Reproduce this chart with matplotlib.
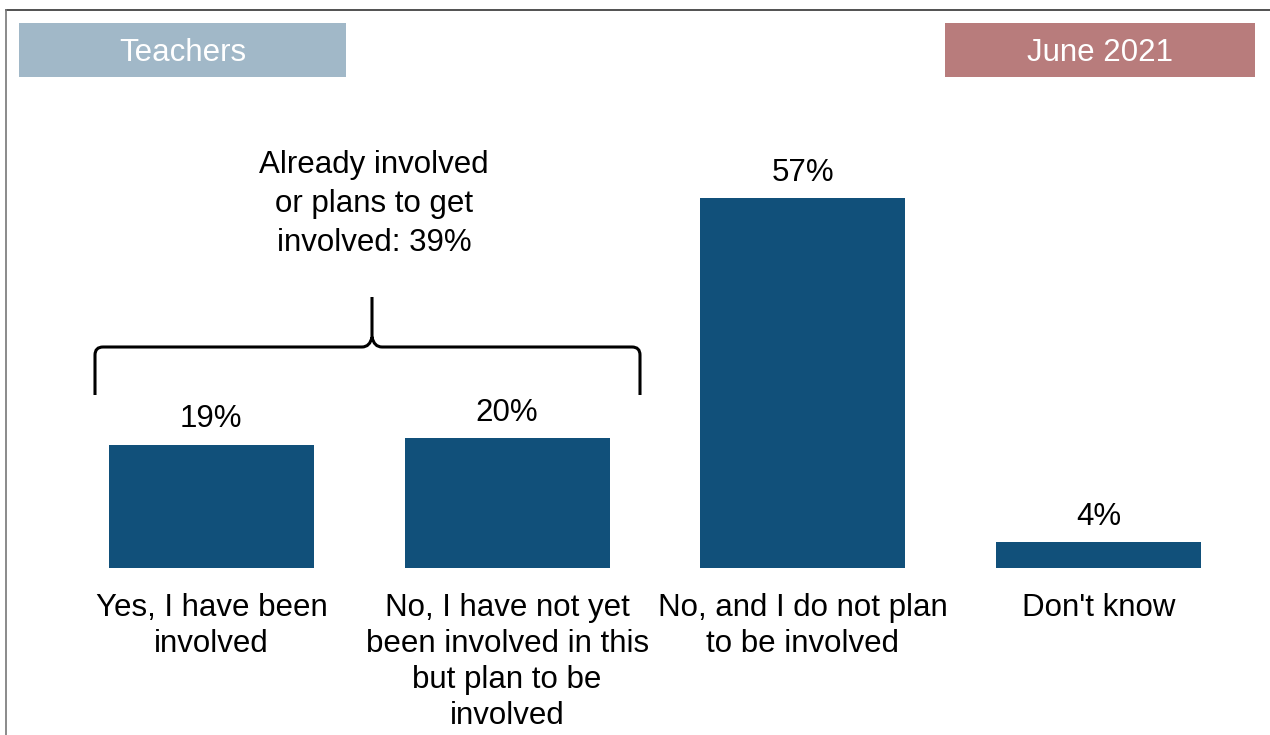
import matplotlib.pyplot as plt
from matplotlib.patches import Rectangle
from matplotlib.path import Path
from matplotlib.patches import PathPatch
from matplotlib.lines import Line2D

plt.rcParams['font.family'] = ['Liberation Sans', 'DejaVu Sans']

# ======================
# data
# ======================
categories = [
    "Yes, I have been\ninvolved",
    "No, I have not yet\nbeen involved in this\nbut plan to be\ninvolved",
    "No, and I do not plan\nto be involved",
    "Don't know",
]
values = [19, 20, 57, 4]
group_label = "Already involved\nor plans to get\ninvolved: 39%"
left_tag = "Teachers"
right_tag = "June 2021"

BAR_COLOR = "#11507A"
FS = 22.5
W, H = 1270, 735

fig = plt.figure(figsize=(W / 100, H / 100), dpi=100)

# axes placed in pixel terms: x from 63.5 to 1246.5, baseline at y=568
ax = fig.add_axes([63.5 / W, (H - 568) / H, 1183 / W, 468 / H])
x = list(range(len(values)))
ax.bar(x, values, width=205 / 296, color=BAR_COLOR)
ax.set_xlim(-0.5, len(values) - 0.5)
ax.set_ylim(0, 468 / 6.49)
ax.axis("off")

for xi, v in zip(x, values):
    ax.annotate(f"{v}%", (xi, v), xytext=(0, 18.3), textcoords="offset points",
                ha="center", va="center", fontsize=FS)

for xi, lab in zip(x, categories):
    ax.annotate(lab, (xi, 0), xytext=(0, -18), textcoords="offset points",
                ha="center", va="top", fontsize=FS, linespacing=1.26)

# ======================
# curly bracket over first two bars (figure pixels, y from top)
# ======================
def px(xp, yp):
    return (xp / W, 1 - yp / H)

xl, xr, xm = 95, 640, 372
y_end, y_bar, y_tip = 395, 347, 297
r = 8
verts = [
    px(xl, y_end), px(xl, y_bar + r), px(xl, y_bar), px(xl + r, y_bar),
    px(xm - 10, y_bar), px(xm - 2, y_bar), px(xm, y_bar - 10), px(xm, y_tip),
    px(xm, y_bar - 10), px(xm + 2, y_bar), px(xm + 10, y_bar),
    px(xr - r, y_bar), px(xr, y_bar), px(xr, y_bar + r), px(xr, y_end),
]
codes = [Path.MOVETO, Path.LINETO, Path.CURVE3, Path.CURVE3,
         Path.LINETO, Path.CURVE3, Path.CURVE3, Path.LINETO,
         Path.MOVETO, Path.CURVE3, Path.CURVE3,
         Path.LINETO, Path.CURVE3, Path.CURVE3, Path.LINETO]
fig.add_artist(PathPatch(Path(verts, codes), transform=fig.transFigure,
                         fill=False, lw=2.2, color="black"))

fig.text(374 / W, 1 - 204 / H, group_label, ha="center", va="center",
         fontsize=FS, linespacing=1.37)

# ======================
# header tags
# ======================
fig.add_artist(Rectangle(px(19, 77), 327 / W, 54 / H, transform=fig.transFigure,
                         color="#A1B8C8", lw=0))
fig.text(182.5 / W, 1 - 53 / H, left_tag, ha="center", va="center",
         fontsize=FS, color="white")
fig.add_artist(Rectangle(px(945, 77), 310 / W, 54 / H, transform=fig.transFigure,
                         color="#B87C7C", lw=0))
fig.text(1100 / W, 1 - 53 / H, right_tag, ha="center", va="center",
         fontsize=FS, color="white")

# frame lines (top and left)
fig.add_artist(Line2D([6 / W, 1], [1 - 10 / H, 1 - 10 / H], transform=fig.transFigure,
                      color="#333333", lw=1.2))
fig.add_artist(Line2D([6 / W, 6 / W], [0, 1 - 10 / H], transform=fig.transFigure,
                      color="#777777", lw=1.2))

fig.savefig("out.png", dpi=100)
